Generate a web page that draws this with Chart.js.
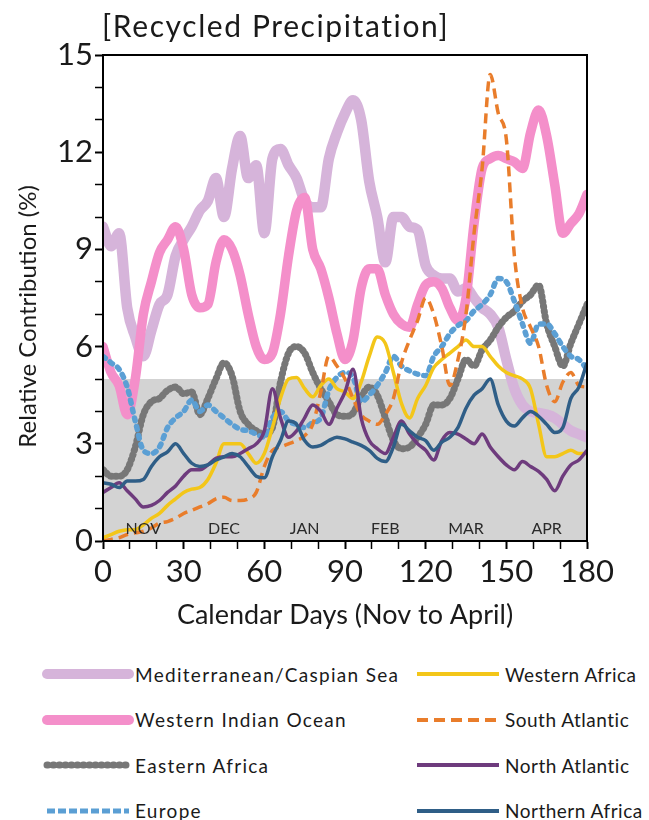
<!DOCTYPE html>
<html lang="en">
<head>
<meta charset="UTF-8">
<title>Recycled Precipitation</title>
<script src="https://cdn.jsdelivr.net/npm/chart.js"></script>
<style>
    body {
        margin: 0;
        background: #ffffff;
        font-family: 'Lato', sans-serif;
        color: #1a1a1a;
    }
    .page {
        position: relative;
        width: 649px;
        height: 820px;
        overflow: hidden;
    }
    #chart {
        position: absolute;
        left: 0;
        top: 0;
    }
    .title {
        position: absolute;
        left: 102px;
        top: 7px;
        font-size: 30px;
        letter-spacing: 1.6px;
    }
    #legend {
        position: absolute;
        left: 0;
        top: 662px;
        width: 649px;
    }
    .item {
        position: absolute;
        display: flex;
        align-items: center;
        height: 24px;
        font-size: 19px;
        letter-spacing: 1.3px;
        white-space: nowrap;
    }
    .item.right {
        letter-spacing: 0.5px;
    }
    .item svg {
        margin-right: 1px;
    }
</style>
</head>
<body>
<div class="page">
    <canvas id="chart" width="649" height="640"></canvas>
    <div class="title">[Recycled Precipitation]</div>
    <div id="legend"></div>
</div>
<script>
    // calendar days, 1 Nov (0) to end of April (180)
    const days = [0, 3, 6, 9, 12, 15, 18, 21, 24, 27, 30, 33, 36, 39, 42, 45, 48, 51, 54, 57, 60,
        63, 66, 69, 72, 75, 78, 81, 84, 87, 90, 93, 96, 99, 102, 105, 108, 111, 114, 117, 120,
        123, 126, 129, 132, 135, 138, 141, 144, 147, 150, 153, 156, 159, 162, 165, 168, 171, 174, 177, 180];

    const medCaspian = [9.7, 9.1, 9.5, 7.2, 6.3, 5.7, 6.5, 7.3, 7.6, 8.8, 9.3, 9.7, 10.2, 10.5, 11.2, 10.0, 11.5, 12.5, 11.2, 11.6, 9.5,
        11.8, 12.1, 11.6, 11.2, 10.5, 10.3, 10.3, 11.8, 12.6, 13.2, 13.6, 13.0, 11.1, 10.0, 8.6, 10.0, 10.0, 9.7, 9.6, 8.5,
        8.2, 8.1, 8.1, 7.7, 7.8, 7.5, 7.2, 7.0, 6.6, 5.6, 4.7, 4.2, 4.0, 3.95, 3.9, 3.8, 3.6, 3.4, 3.3, 3.2];
    const westIndian = [6.0, 5.2, 4.8, 3.9, 5.0, 7.0, 8.0, 8.9, 9.3, 9.7, 9.0, 7.6, 7.2, 7.3, 8.6, 9.3, 9.0, 8.2, 7.0, 6.0, 5.6,
        5.8, 7.0, 8.8, 10.2, 10.6, 9.0, 8.4, 7.5, 6.4, 5.6, 6.2, 7.8, 8.4, 8.4, 7.6, 7.0, 6.7, 6.6, 7.3, 7.9,
        8.0, 7.8, 7.2, 6.8, 7.5, 9.8, 11.5, 11.8, 11.9, 11.8, 11.7, 11.5, 12.6, 13.3, 12.5, 11.0, 9.5, 9.8, 10.1, 10.7];
    const eastAfrica = [2.2, 2.0, 2.0, 2.2, 2.9, 3.9, 4.3, 4.4, 4.65, 4.75, 4.55, 4.6, 3.9, 4.4, 5.0, 5.5, 5.1, 4.0, 3.6, 3.4, 3.3,
        3.5, 4.9, 5.8, 6.0, 5.8, 5.2, 4.7, 4.3, 3.9, 3.85, 3.95, 4.45, 4.75, 4.5, 3.8, 3.1, 2.85, 2.9, 3.2, 3.6,
        4.2, 4.2, 4.4, 5.0, 5.6, 5.4, 5.9, 6.2, 6.6, 6.9, 7.1, 7.4, 7.6, 7.9, 6.7, 6.0, 5.4, 6.1, 6.7, 7.3];
    const europe = [5.7, 5.5, 5.3, 4.75, 3.7, 2.8, 2.7, 2.9, 3.5, 3.8, 4.0, 4.35, 4.0, 4.2, 4.0, 3.8, 3.6, 3.45, 3.4, 3.3, 3.2,
        3.8, 4.0, 3.7, 3.6, 3.5, 3.65, 3.8, 4.65, 5.05, 5.2, 5.05, 4.3, 4.5, 4.8, 5.2, 5.7, 5.4, 5.25, 5.15, 5.1,
        5.7, 6.0, 6.4, 6.65, 6.8, 7.1, 7.3, 7.6, 8.1, 8.0, 7.4, 6.7, 6.1, 6.7, 6.7, 6.4, 6.0, 5.7, 5.6, 5.3];
    const westAfrica = [0.1, 0.2, 0.3, 0.35, 0.35, 0.5, 0.7, 0.85, 1.1, 1.3, 1.5, 1.6, 1.65, 1.9, 2.4, 3.0, 3.0, 3.0, 2.7, 2.4, 2.7,
        3.5, 4.4, 5.0, 5.05, 4.7, 4.45, 4.8, 5.0, 4.7, 4.6, 4.4, 4.9, 5.7, 6.3, 6.1, 5.2, 4.25, 3.8, 4.4, 4.8,
        5.35, 5.6, 5.8, 6.0, 6.2, 6.0, 6.0, 5.7, 5.4, 5.2, 5.1, 5.0, 4.7, 3.6, 2.6, 2.6, 2.7, 2.8, 2.7, 2.7];
    const southAtlantic = [0.0, 0.05, 0.1, 0.2, 0.25, 0.3, 0.4, 0.55, 0.6, 0.7, 0.85, 0.95, 1.05, 1.15, 1.3, 1.35, 1.25, 1.25, 1.3, 1.5, 2.3,
        2.8, 2.9, 3.0, 3.1, 3.25, 3.6, 4.6, 5.7, 5.4, 5.0, 4.4, 3.9, 3.7, 3.6, 3.9, 4.4, 5.5, 6.2, 6.8, 7.5,
        7.0, 6.0, 4.8, 5.6, 7.0, 9.5, 11.5, 14.4, 13.2, 12.4, 8.8, 7.2, 6.6, 6.0, 4.8, 4.3, 4.9, 5.2, 4.8, 4.75];
    const northAtlantic = [1.5, 1.65, 1.8, 1.55, 1.3, 1.05, 1.1, 1.25, 1.5, 1.7, 2.0, 2.2, 2.2, 2.35, 2.55, 2.6, 2.6, 2.7, 2.85, 3.0, 3.4,
        4.7, 3.8, 3.2, 3.4, 3.8, 4.2, 4.0, 3.6, 4.1, 4.6, 5.3, 3.8, 3.1, 2.85, 2.7, 3.2, 3.7, 3.3, 3.0, 2.8,
        2.5, 3.1, 3.35, 3.3, 3.15, 3.0, 3.3, 2.9, 2.6, 2.35, 2.2, 2.45, 2.3, 2.15, 1.9, 1.55, 2.0, 2.35, 2.5, 2.8];
    const northAfrica = [1.8, 1.75, 1.65, 1.85, 1.85, 1.9, 2.3, 2.6, 2.75, 3.0, 2.7, 2.4, 2.3, 2.35, 2.5, 2.6, 2.7, 2.6, 2.3, 2.0, 1.95,
        2.6, 3.1, 3.7, 3.6, 3.1, 2.9, 2.95, 3.1, 3.2, 3.15, 3.05, 2.95, 2.8, 2.55, 2.45, 2.9, 3.6, 3.4, 3.2, 3.1,
        2.8, 3.05, 3.2, 3.5, 4.1, 4.5, 4.7, 5.0, 4.2, 3.7, 3.55, 3.8, 4.0, 3.85, 3.6, 3.35, 3.5, 4.4, 4.75, 5.5];

    const seriesNames = ['Mediterranean/Caspian Sea', 'Western Indian Ocean', 'Eastern Africa', 'Europe',
        'Western Africa', 'South Atlantic', 'North Atlantic', 'Northern Africa'];
    const seriesValues = [medCaspian, westIndian, eastAfrica, europe, westAfrica, southAtlantic, northAtlantic, northAfrica];

    // month names, centred in each 30-day block
    const monthNames = ['NOV', 'DEC', 'JAN', 'FEB', 'MAR', 'APR'];
    const monthMid = [15, 45, 75, 105, 135, 165];
    const shadedBand = [0, 5];

    const colors = ['#d6b4da', '#f48fca', '#777777', '#5b9fd4', '#f3c619', '#e97d2b', '#6e3b7d', '#2f5e87'];
    const lineWidths = [10.5, 9.5, 7, 5.5, 3.5, 3.5, 3.5, 3.5];
    const dashes = [[], [], [1, 4], [3, 6], [], [10, 6], [], []];
    const caps = ['round', 'round', 'round', 'round', 'butt', 'butt', 'butt', 'butt'];

    const datasets = seriesNames.map((name, i) => ({
        label: name,
        data: days.map((d, j) => ({ x: d, y: seriesValues[i][j] })),
        borderColor: colors[i],
        borderWidth: lineWidths[i],
        borderDash: dashes[i],
        borderCapStyle: caps[i],
        borderJoinStyle: 'round',
        pointRadius: 0,
        cubicInterpolationMode: 'monotone',
        order: seriesNames.length - i
    }));

    const bandPlugin = {
        id: 'band',
        beforeDatasetsDraw(chart) {
            const { ctx, chartArea, scales } = chart;
            const yTop = scales.y.getPixelForValue(shadedBand[1]);
            const yBot = scales.y.getPixelForValue(shadedBand[0]);
            ctx.save();
            ctx.fillStyle = '#d3d3d3';
            ctx.fillRect(chartArea.left, yTop, chartArea.right - chartArea.left, yBot - yTop);
            ctx.restore();
        }
    };

    const monthPlugin = {
        id: 'months',
        afterDatasetsDraw(chart) {
            const { ctx, scales } = chart;
            ctx.save();
            ctx.font = '16px Lato, sans-serif';
            ctx.fillStyle = '#2a2a2a';
            ctx.textAlign = 'center';
            ctx.textBaseline = 'middle';
            monthNames.forEach((m, i) => {
                ctx.fillText(m, scales.x.getPixelForValue(monthMid[i]), scales.y.getPixelForValue(0.36));
            });
            ctx.restore();
        }
    };

    const framePlugin = {
        id: 'frame',
        afterDraw(chart) {
            const { ctx, chartArea } = chart;
            ctx.save();
            ctx.strokeStyle = '#000';
            ctx.lineWidth = 2;
            ctx.strokeRect(chartArea.left, chartArea.top, chartArea.right - chartArea.left, chartArea.bottom - chartArea.top);
            ctx.restore();
        }
    };

    new Chart(document.getElementById('chart'), {
        type: 'line',
        data: { datasets },
        options: {
            responsive: false,
            animation: false,
            devicePixelRatio: 1,
            layout: { padding: { top: 55, right: 62, left: 0, bottom: 0 } },
            plugins: {
                legend: { display: false },
                tooltip: { enabled: false }
            },
            scales: {
                x: {
                    type: 'linear',
                    min: 0,
                    max: 180,
                    afterFit(scale) { scale.height = 99; },
                    border: { display: true, color: '#000', width: 2 },
                    grid: {
                        drawOnChartArea: false,
                        tickLength: 8,
                        color: '#000',
                        tickWidth: (c) => (c.tick && c.tick.value % 30 === 0 ? 2 : 1.5)
                    },
                    ticks: {
                        stepSize: 10,
                        autoSkip: false,
                        maxRotation: 0,
                        padding: 4,
                        color: '#1a1a1a',
                        font: { family: 'Lato', size: 31 },
                        callback: (v) => (v % 30 === 0 ? v : '')
                    },
                    title: {
                        display: true,
                        text: 'Calendar Days (Nov to April)',
                        color: '#1a1a1a',
                        font: { family: 'Lato', size: 27 },
                        padding: { top: 0, bottom: 9 }
                    }
                },
                y: {
                    min: 0,
                    max: 15,
                    afterFit(scale) { scale.width = 103; },
                    border: { display: true, color: '#000', width: 2 },
                    grid: {
                        drawOnChartArea: false,
                        tickLength: 8,
                        color: '#000',
                        tickWidth: (c) => (c.tick && c.tick.value % 3 === 0 ? 2 : 1.5)
                    },
                    ticks: {
                        stepSize: 1,
                        autoSkip: false,
                        padding: 2,
                        color: '#1a1a1a',
                        font: { family: 'Lato', size: 31 },
                        callback: (v) => (v % 3 === 0 ? v : '')
                    },
                    title: {
                        display: true,
                        text: 'Relative Contribution (%)      ',
                        color: '#1a1a1a',
                        font: { family: 'Lato', size: 24 },
                        padding: { top: 14, bottom: 0 }
                    }
                }
            }
        },
        plugins: [bandPlugin, monthPlugin, framePlugin]
    });

    // legend in two columns below the chart
    const legendWidths = [10, 10, 7, 5, 4, 4, 4, 4];
    const legendDash = ['', '', '1 5', '8 3', '', '11 6', '', ''];
    const legendBox = document.getElementById('legend');
    seriesNames.forEach((name, i) => {
        const col = i < 4 ? 0 : 1;
        const row = i % 4;
        const item = document.createElement('div');
        item.className = col ? 'item right' : 'item';
        item.style.left = (col ? 412 : 42) + 'px';
        item.style.top = (row * 45.5) + 'px';
        const dashAttr = legendDash[i] ? `stroke-dasharray="${legendDash[i]}"` : '';
        const cap = (i < 3) ? 'round' : 'butt';
        item.innerHTML = `<svg width="92" height="14"><line x1="5" y1="7" x2="87" y2="7" stroke="${colors[i]}" stroke-width="${legendWidths[i]}" stroke-linecap="${cap}" ${dashAttr}/></svg><span>${name}</span>`;
        legendBox.appendChild(item);
    });
</script>
</body>
</html>
